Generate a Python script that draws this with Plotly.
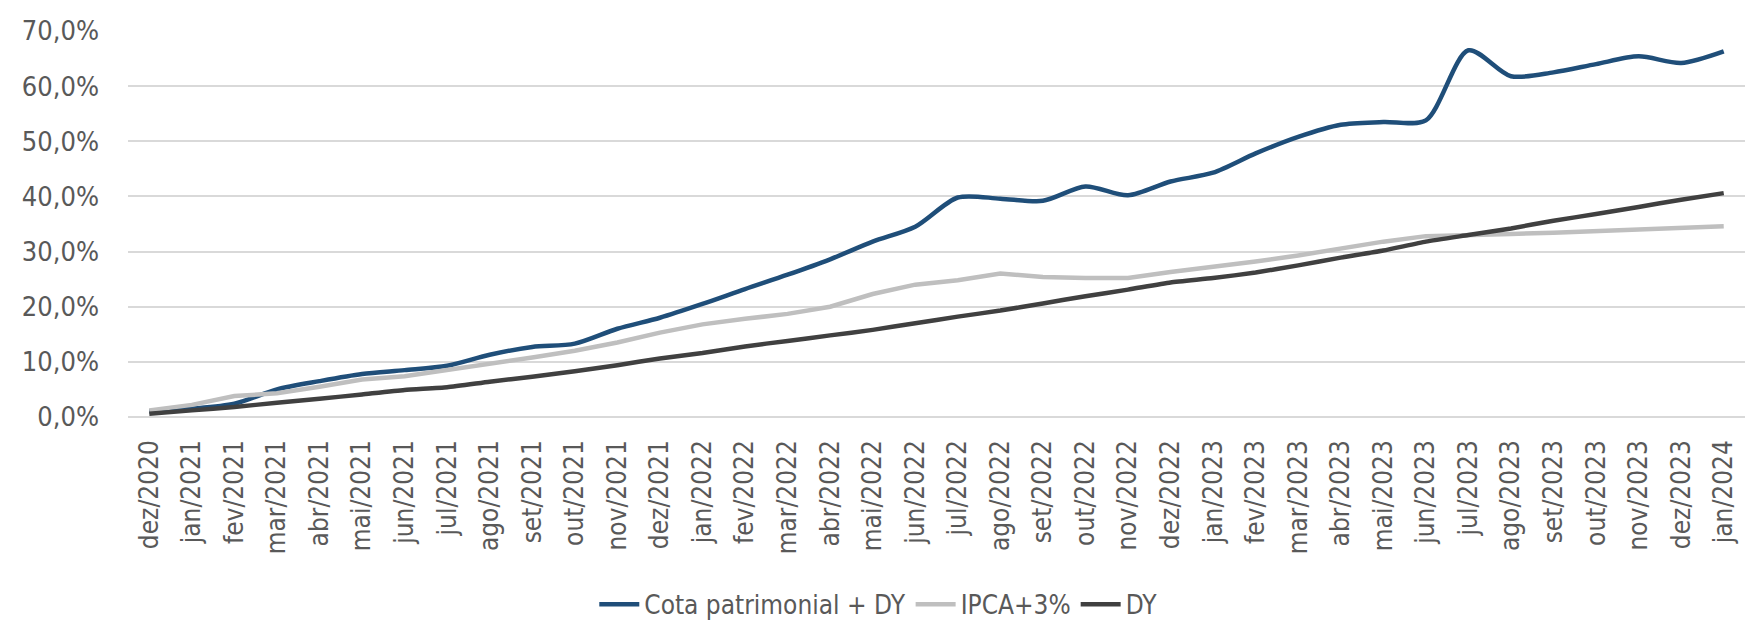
import plotly.graph_objects as go

months = ["dez/2020", "jan/2021", "fev/2021", "mar/2021", "abr/2021", "mai/2021", "jun/2021",
          "jul/2021", "ago/2021", "set/2021", "out/2021", "nov/2021", "dez/2021", "jan/2022",
          "fev/2022", "mar/2022", "abr/2022", "mai/2022", "jun/2022", "jul/2022", "ago/2022",
          "set/2022", "out/2022", "nov/2022", "dez/2022", "jan/2023", "fev/2023", "mar/2023",
          "abr/2023", "mai/2023", "jun/2023", "jul/2023", "ago/2023", "set/2023", "out/2023",
          "nov/2023", "dez/2023", "jan/2024"]

cota_dy = [1.0, 1.5, 2.4, 5.0, 6.5, 7.8, 8.5, 9.3, 11.3, 12.7, 13.3, 16.0, 18.0, 20.5,
           23.2, 25.8, 28.6, 31.8, 34.5, 39.8, 39.6, 39.2, 41.8, 40.2, 42.7, 44.3, 47.8,
           50.8, 53.0, 53.5, 53.8, 66.5, 61.8, 62.5, 64.0, 65.4, 64.2, 66.3]

ipca3 = [1.2, 2.2, 3.8, 4.3, 5.5, 6.8, 7.4, 8.5, 9.5, 10.8, 12.0, 13.5, 15.3, 16.8,
         17.8, 18.7, 20.0, 22.3, 24.0, 24.8, 26.0, 25.4, 25.2, 25.2, 26.3, 27.2, 28.2,
         29.3, 30.6, 31.8, 32.8, 33.1, 33.2, 33.4, 33.7, 34.0, 34.3, 34.6]

dy = [0.6, 1.2, 1.8, 2.6, 3.3, 4.1, 4.9, 5.4, 6.4, 7.3, 8.3, 9.4, 10.6, 11.6,
      12.8, 13.8, 14.8, 15.8, 17.0, 18.2, 19.3, 20.6, 21.9, 23.1, 24.4, 25.2, 26.2,
      27.5, 28.9, 30.2, 31.8, 33.0, 34.2, 35.6, 36.8, 38.1, 39.4, 40.6]

FONT = "DejaVu Sans Condensed, Liberation Sans Narrow, Roboto, sans-serif"
TXT = "#595959"

fig = go.Figure()
fig.add_trace(go.Scatter(x=months, y=cota_dy, name="Cota patrimonial + DY", mode="lines",
                         line=dict(color="#1F4E79", width=4.5, shape="spline", smoothing=0.8)))
fig.add_trace(go.Scatter(x=months, y=ipca3, name="IPCA+3%", mode="lines",
                         line=dict(color="#BFBFBF", width=4.5)))
fig.add_trace(go.Scatter(x=months, y=dy, name="DY", mode="lines",
                         line=dict(color="#404040", width=4.5, shape="spline", smoothing=0.5)))

fig.update_layout(
    width=1747, height=623,
    margin=dict(l=128, r=2, t=31, b=206),
    paper_bgcolor="white", plot_bgcolor="white",
    separators=",.",
    font=dict(family=FONT, color=TXT, size=24),
    showlegend=True,
    legend=dict(orientation="h", x=0.464, xanchor="center",
                yref="container", y=0.03, yanchor="middle",
                font=dict(size=26, color=TXT), itemwidth=40, traceorder="normal"),
    xaxis=dict(type="category", range=[-0.5, 37.5], tickangle=-90, showgrid=False,
               showline=False, ticks="", ticklabelstandoff=17, automargin=False,
               tickfont=dict(size=26, color=TXT)),
    yaxis=dict(range=[0, 70], dtick=10, tickformat=".1f", ticksuffix="%",
               showgrid=True, gridcolor="#D9D9D9", gridwidth=1.7, zeroline=True,
               zerolinecolor="#D9D9D9", zerolinewidth=1.7, showline=False, ticks="",
               ticklabelstandoff=28, automargin=False, tickfont=dict(size=27, color=TXT)),
)

fig.write_html("out.html", config={"displayModeBar": False},
               post_script="document.body.style.margin='0';document.body.style.overflow='hidden';")
